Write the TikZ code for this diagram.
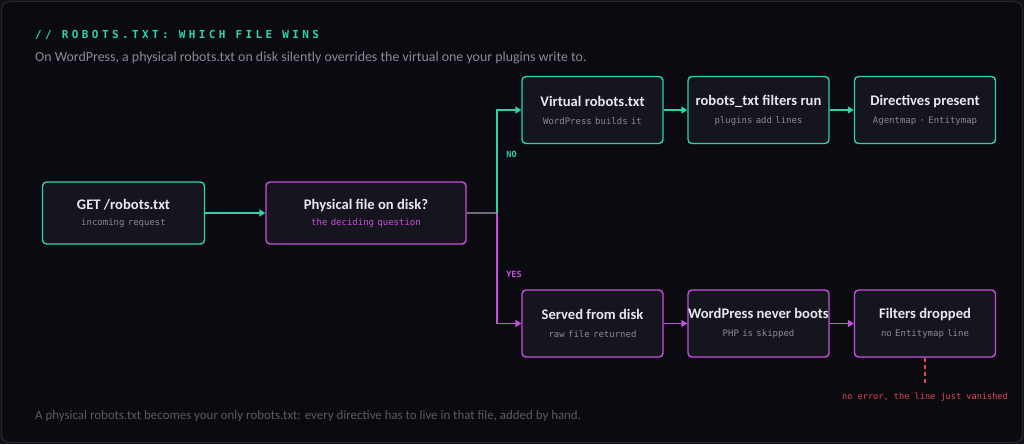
\documentclass[tikz,border=0pt]{standalone}
\usepackage{fontspec}
\usetikzlibrary{arrows.meta}
\setmainfont{Carlito}
\newfontfamily\monof{DejaVu Sans Mono}
\newfontfamily\headf{DejaVu Sans Mono}[LetterSpace=31]
\definecolor{bgpage}{HTML}{131219}
\definecolor{bgpanel}{HTML}{0B0A10}
\definecolor{panelline}{HTML}{25242F}
\definecolor{boxfill}{HTML}{15151D}
\definecolor{tealc}{HTML}{2ED3A7}
\definecolor{magc}{HTML}{C94FE1}
\definecolor{titlec}{HTML}{E8E8EF}
\definecolor{subc}{HTML}{8A8A96}
\definecolor{notec}{HTML}{E5484F}
\definecolor{splitc}{HTML}{6E6E78}
\newcommand\boxtitle[1]{{\fontsize{14.6}{16}\selectfont\bfseries\color{titlec}#1}}
\newcommand\boxsub[2][subc]{{\fontsize{9}{10}\selectfont\monof\color{#1}#2}}
\begin{document}
\begin{tikzpicture}[x=1pt,y=-1pt,
    flowbox/.style={draw, line width=1.4pt, rounded corners=4pt, fill=boxfill,
        text width=137pt, minimum height=67pt, align=center, inner sep=2pt},
    tealbox/.style={flowbox, draw=tealc},
    magbox/.style={flowbox, draw=magc},
    tealarrow/.style={draw=tealc, line width=1.4pt, -{Triangle[length=6pt,width=7pt]}, tealc},
    magarrow/.style={draw=magc, line width=1.4pt, -{Triangle[length=6pt,width=7pt]}, magc}]
    % panel
    \fill[bgpage] (0,0) rectangle (1024,444);
    \draw[panelline, fill=bgpanel, line width=1.2pt, rounded corners=8pt] (1.5,1.5) rectangle (1022.5,442.5);
    % heading
    \node[anchor=west, text=tealc, inner sep=0pt] (head) at (35,35)
        {\fontsize{11}{13}\selectfont\headf\bfseries // ROBOTS.TXT: WHICH FILE WINS};
    \node[anchor=west, text=subc, inner sep=0pt] (lead) at (35,57.5)
        {\fontsize{13.9}{16}\selectfont On WordPress, a physical robots.txt on disk silently overrides the virtual one your plugins write to.};
    % request and decision
    \node[tealbox, text width=158pt, minimum height=62pt] (get) at (123.5,213)
        {\boxtitle{GET /robots.txt}\\[4pt]\boxsub{incoming request}};
    \node[magbox, text width=196pt, minimum height=62pt] (phys) at (366,213)
        {\boxtitle{Physical file on disk?}\\[4pt]\boxsub[magc]{the deciding question}};
    % no branch
    \node[tealbox] (virt) at (592.5,110)
        {\boxtitle{Virtual robots.txt}\\[6pt]\boxsub{WordPress builds it}};
    \node[tealbox] (filt) at (758.5,110)
        {\boxtitle{robots\_txt filters run}\\[6pt]\boxsub{plugins add lines}};
    \node[tealbox] (dirs) at (925,110)
        {\boxtitle{Directives present}\\[6pt]\boxsub{Agentmap · Entitymap}};
    % yes branch
    \node[magbox] (disk) at (592.5,323.5)
        {\boxtitle{Served from disk}\\[6pt]\boxsub{raw file returned}};
    \node[magbox] (noboot) at (758.5,323.5)
        {\boxtitle{\makebox[137pt]{WordPress never boots}}\\[6pt]\boxsub{PHP is skipped}};
    \node[magbox] (drop) at (925,323.5)
        {\boxtitle{Filters dropped}\\[6pt]\boxsub{no Entitymap line}};
    % connectors
    \coordinate (split) at (497,213);
    \draw[tealarrow] (get) -- (phys);
    \draw[splitc, line width=1.2pt] (phys.east) -- (split);
    \draw[tealarrow] (split) |- (virt.west);
    \draw[magarrow] (split) |- (disk.west);
    \draw[tealarrow] (virt) -- (filt);
    \draw[tealarrow] (filt) -- (dirs);
    \draw[magarrow] (disk) -- (noboot);
    \draw[magarrow] (noboot) -- (drop);
    \node[text=tealc, inner sep=0pt] (nolabel) at (511.5,154.5)
        {\fontsize{8.5}{10}\selectfont\monof\bfseries NO};
    \node[text=magc, inner sep=0pt] (yeslabel) at (514,274)
        {\fontsize{8.5}{10}\selectfont\monof\bfseries YES};
    % silent loss
    \coordinate (noteend) at (925,383);
    \draw[notec, line width=1.2pt, dash pattern=on 4pt off 3pt] (drop.south) -- (noteend);
    \node[text=notec, inner sep=0pt] (note) at (925,397)
        {\fontsize{8.6}{10}\selectfont\monof no error, the line just vanished};
    % footer
    \node[anchor=west, text=splitc!80!bgpanel, inner sep=0pt] (foot) at (35,416)
        {\fontsize{12.9}{15}\selectfont A physical robots.txt becomes your only robots.txt: every directive has to live in that file, added by hand.};
\end{tikzpicture}
\end{document}
